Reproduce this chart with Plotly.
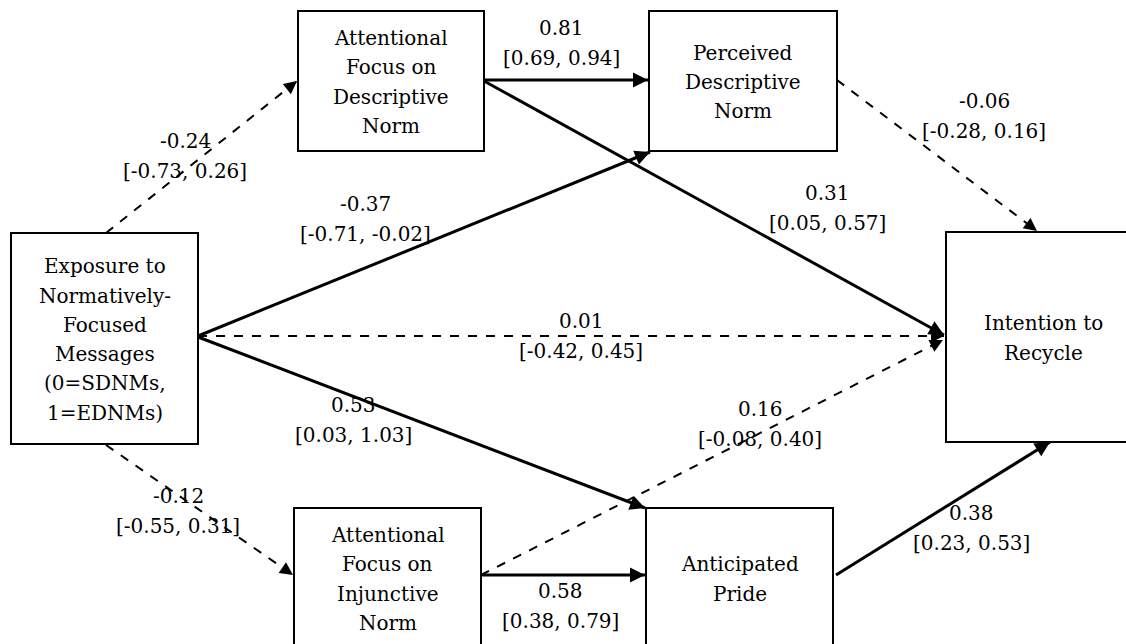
import plotly.graph_objects as go
import math

# ---- data ----
node_ids = ["exp", "afd", "pdn", "afi", "pride", "intent"]
node_labels = [
    "Exposure to<br>Normatively-<br>Focused<br>Messages<br>(0=SDNMs,<br>1=EDNMs)",
    "Attentional<br>Focus on<br>Descriptive<br>Norm",
    "Perceived<br>Descriptive<br>Norm",
    "Attentional<br>Focus on<br>Injunctive<br>Norm",
    "Anticipated<br>Pride",
    "Intention to<br>Recycle",
]
edge_from = ["exp", "afd", "afd", "exp", "pdn", "exp", "exp", "exp", "afi", "afi", "pride"]
edge_to = ["afd", "pdn", "intent", "pdn", "intent", "intent", "pride", "afi", "pride", "intent", "intent"]
edge_coef = [-0.24, 0.81, 0.31, -0.37, -0.06, 0.01, 0.53, -0.12, 0.58, 0.16, 0.38]
edge_ci_low = [-0.73, 0.69, 0.05, -0.71, -0.28, -0.42, 0.03, -0.55, 0.38, -0.08, 0.23]
edge_ci_high = [0.26, 0.94, 0.57, -0.02, 0.16, 0.45, 1.03, 0.31, 0.79, 0.40, 0.53]
edge_significant = [False, True, True, True, False, False, True, False, True, False, True]

# ---- layout geometry (pixel positions in the diagram) ----
boxes = {
    "exp": (11, 198, 233, 444),
    "afd": (298, 484, 11, 151),
    "pdn": (649, 837, 11, 151),
    "afi": (294, 481, 508, 648),
    "pride": (646, 833, 508, 648),
    "intent": (946, 1140, 232, 442),
}
edge_geom = [
    ((106, 233), (297, 81)),
    ((484, 80), (648, 80)),
    ((484, 81), (944, 335)),
    ((198, 336), (650, 152)),
    ((837, 80), (1037, 231)),
    ((198, 336), (944, 336)),
    ((198, 337), (645, 508)),
    ((106, 445), (293, 575)),
    ((481, 575), (645, 575)),
    ((481, 575), (943, 340)),
    ((836, 575), (1050, 442)),
]
label_pos = [
    (185, 156), (561, 43), (827, 208), (365, 219), (984, 116),
    (581, 336), (353, 420), (178, 511), (560, 606), (760, 424), (971, 528),
]

FONT = "DejaVu Serif"
FS = 20
LINE = 29.3

fig = go.Figure()
shapes = []
annotations = []


def add_lines(lines, cx, cy):
    n = len(lines)
    for k, t in enumerate(lines):
        annotations.append(dict(x=cx, y=cy + (k - (n - 1) / 2) * LINE, xref="x", yref="y",
                                text=t, showarrow=False,
                                font=dict(family=FONT, size=FS, color="black")))


for nid, lab in zip(node_ids, node_labels):
    x0, x1, y0, y1 = boxes[nid]
    shapes.append(dict(type="rect", xref="x", yref="y", x0=x0, x1=x1, y0=y0, y1=y1,
                       line=dict(color="black", width=2), fillcolor="white", layer="below"))
    add_lines(lab.split("<br>"), (x0 + x1) / 2, (y0 + y1) / 2 + 1)

for i in range(len(edge_from)):
    (sx, sy), (ex, ey) = edge_geom[i]
    sig = edge_significant[i]
    w = 3 if sig else 2
    shapes.append(dict(type="line", xref="x", yref="y", x0=sx, y0=sy, x1=ex, y1=ey,
                       line=dict(color="black", width=w, dash="solid" if sig else "dash")))
    L = math.hypot(ex - sx, ey - sy)
    ux, uy = (ex - sx) / L, (ey - sy) / L
    annotations.append(dict(x=ex, y=ey, ax=ex - 6 * ux, ay=ey - 6 * uy,
                            xref="x", yref="y", axref="x", ayref="y", text="",
                            showarrow=True, arrowhead=2, arrowsize=1.0 if sig else 1.3,
                            arrowwidth=w, arrowcolor="black", standoff=0))
    lx, ly = label_pos[i]
    add_lines([f"{edge_coef[i]:.2f}", f"[{edge_ci_low[i]:.2f}, {edge_ci_high[i]:.2f}]"], lx, ly)

fig.update_layout(
    width=1126, height=644,
    margin=dict(l=0, r=0, t=0, b=0),
    paper_bgcolor="white", plot_bgcolor="white",
    font=dict(family=FONT),
    xaxis=dict(range=[0, 1126], visible=False, fixedrange=True),
    yaxis=dict(range=[644, 0], visible=False, fixedrange=True),
    shapes=shapes, annotations=annotations, showlegend=False,
)
fig.write_html("out.html", config={"displayModeBar": False},
               post_script="document.body.style.margin='0px';")
